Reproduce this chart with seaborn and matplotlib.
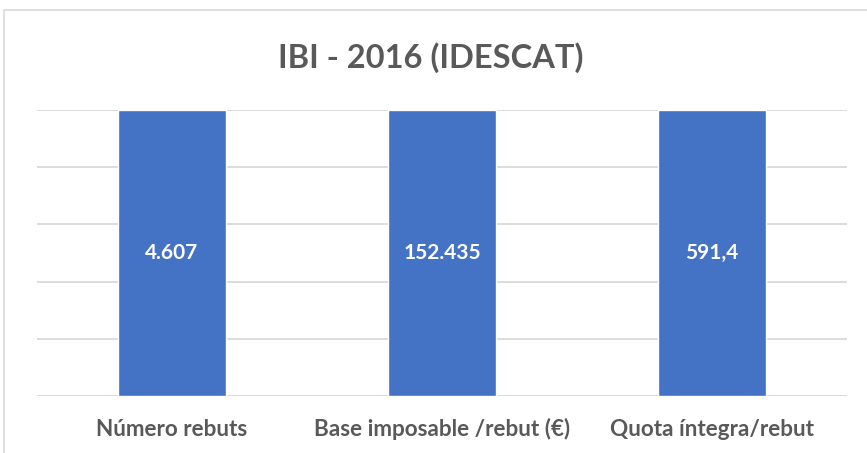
import pandas as pd
import seaborn as sns
import matplotlib.pyplot as plt
from matplotlib.patches import Rectangle

# each bar is shown at full height (100% of its own measure)
categories = ['Número rebuts', 'Base imposable /rebut (€)', 'Quota íntegra/rebut']
shares = [100, 100, 100]
value_labels = ['4.607', '152.435', '591,4']

df = pd.DataFrame({'cat': categories, 'share': shares, 'label': value_labels})

sns.set_theme(style='white')
plt.rcParams['font.family'] = ['Lato', 'DejaVu Sans']

fig = plt.figure(figsize=(8.67, 4.53), dpi=100)
ax = fig.add_axes([0.0427, 0.1258, 0.9343, 0.6313])

sns.barplot(data=df, x='cat', y='share', color='#4472C4', width=0.40,
            saturation=1, ax=ax, zorder=3)

ax.set_ylim(0, 100)
ax.set_xlim(-0.5, 2.5)
ax.set_yticks(range(0, 101, 20))
ax.yaxis.grid(True, color='#D9D9D9', linewidth=1.3, zorder=0)
ax.set_yticklabels([])
ax.tick_params(axis='y', length=0)
ax.tick_params(axis='x', length=0)
ax.set_xticklabels([])
ax.set_xlabel('')
ax.set_ylabel('')
for s in ax.spines.values():
    s.set_visible(False)
ax.axhline(0, color='#D9D9D9', linewidth=1.3, zorder=2)

# category labels on a common baseline
for i, c in enumerate(categories):
    ax.annotate(c, xy=(i, 0), xycoords='data', xytext=(0, -29),
                textcoords='offset points', ha='center', va='baseline',
                fontsize=16.2, fontweight='bold', color='#595959')

for i, row in df.iterrows():
    ax.text(i, row['share'] / 2, row['label'], ha='center', va='center',
            color='white', fontsize=15, fontweight='bold', zorder=4)

fig.text(0.497, 0.873, 'IBI - 2016 (IDESCAT)', ha='center', va='center',
         fontsize=23.5, fontweight='bold', color='#595959')

fig.patches.append(Rectangle((4 / 867, -0.02), 1.0, 1 - 10 / 453 + 0.02,
                             transform=fig.transFigure, fill=False,
                             edgecolor='#D9D9D9', linewidth=1.2))

fig.savefig('out.png', dpi=100)
